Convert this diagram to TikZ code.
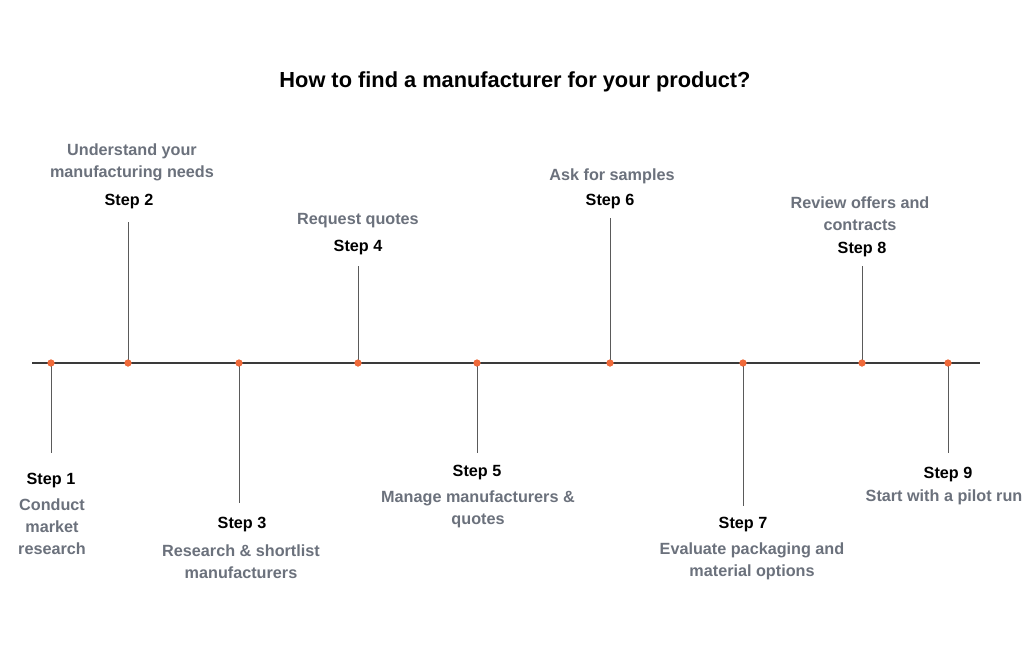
\documentclass[tikz,border=0pt]{standalone}
\usepackage{fontspec}
\setmainfont{Liberation Sans}
\begin{document}
\begin{tikzpicture}[x=1pt,y=-1pt,
  title/.style={font=\bfseries\fontsize{21.8}{25}\selectfont, text=black, inner sep=0pt},
  steplbl/.style={font=\bfseries\fontsize{16.2}{22}\selectfont, text=black, inner sep=0pt},
  desc/.style={font=\bfseries\fontsize{16.2}{22}\selectfont, text=descgray, align=center, inner sep=0pt},
  dot/.style={circle, fill=dotorange, inner sep=0pt, minimum size=7pt},
  axis/.style={draw=axisgray, line width=1.8pt},
  stem/.style={draw=stemgray, line width=0.9pt}]
\definecolor{descgray}{HTML}{6B717C}
\definecolor{dotorange}{HTML}{F06A3A}
\definecolor{axisgray}{HTML}{3A3A3A}
\definecolor{stemgray}{HTML}{5A5A5A}
\useasboundingbox (0,0) rectangle (1024,670);
\fill[white] (0,0) rectangle (1024,670);
\node[title] (t) at (515,82) {How to find a manufacturer for your product?};
% axis
\coordinate (a0) at (32,363);
\coordinate (a1) at (980,363);
\draw[axis] (a0) -- (a1);
% stem ends
\coordinate (e1) at (51,453);
\coordinate (e2) at (128,222);
\coordinate (e3) at (239,503);
\coordinate (e4) at (358,266);
\coordinate (e5) at (477,453);
\coordinate (e6) at (610,218);
\coordinate (e7) at (743,506);
\coordinate (e8) at (862,266);
\coordinate (e9) at (948,453);
% dots
\foreach \i/\x in {1/51,2/128,3/239,4/358,5/477,6/610,7/743,8/862,9/948}{
  \node[dot] (d\i) at (\x,363) {};
  \draw[stem] (d\i.center) -- (e\i);
  \node[dot] at (d\i) {};
}
% labels
\node[steplbl] (s1) at (51,481) {Step 1};
\node[desc] (t1) at (52,527) {Conduct\\market\\research};
\node[desc] (t2) at (132,162) {Understand your\\manufacturing needs};
\node[steplbl] (s2) at (129,202) {Step 2};
\node[steplbl] (s3) at (242,525) {Step 3};
\node[desc] (t3) at (241,562) {Research \& shortlist\\manufacturers};
\node[desc] (t4) at (358,221) {Request quotes};
\node[steplbl] (s4) at (358,248) {Step 4};
\node[steplbl] (s5) at (477,473) {Step 5};
\node[desc] (t5) at (478,509) {Manage manufacturers \&\\quotes};
\node[desc] (t6) at (612,176) {Ask for samples};
\node[steplbl] (s6) at (610,202) {Step 6};
\node[steplbl] (s7) at (743,525) {Step 7};
\node[desc] (t7) at (752,561) {Evaluate packaging and\\material options};
\node[desc] (t8) at (860,214) {Review offers and\\contracts};
\node[steplbl] (s8) at (862,250) {Step 8};
\node[steplbl] (s9) at (948,475) {Step 9};
\node[desc] (t9) at (944,497) {Start with a pilot run};
\end{tikzpicture}
\end{document}
